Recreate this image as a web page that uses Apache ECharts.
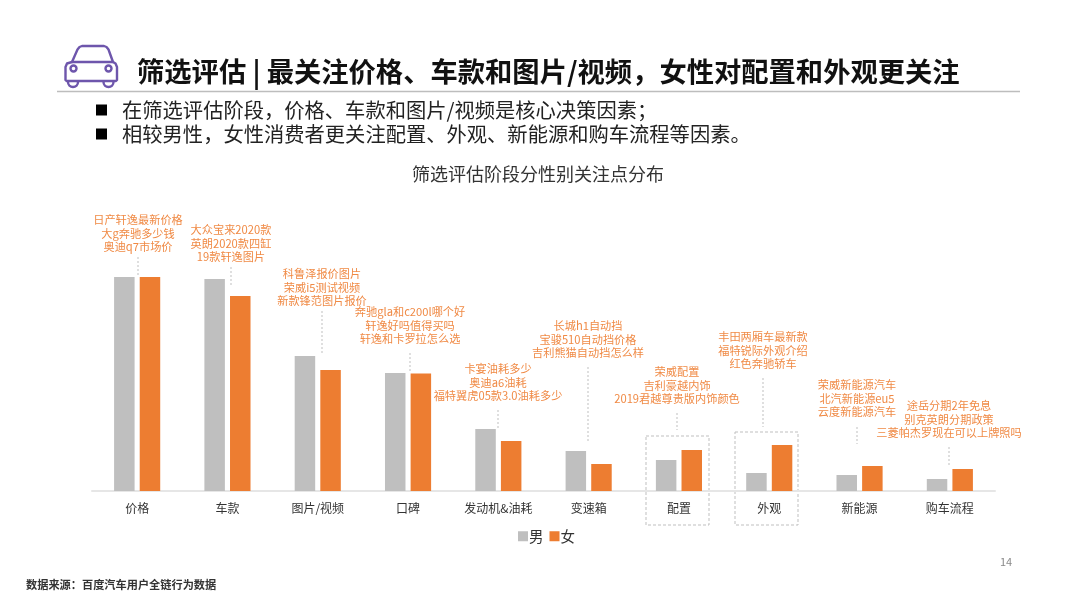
<!DOCTYPE html>
<html><head><meta charset="utf-8">
<style>html,body{margin:0;padding:0;background:#fff}#c{width:1080px;height:608px}</style>
<script src="https://cdn.jsdelivr.net/npm/echarts@6/dist/echarts.min.js"></script>
</head><body><div id="c"></div>
<script>
const categories = ['价格','车款','图片/视频','口碑','发动机&油耗','变速箱','配置','外观','新能源','购车流程'];
const maleValues = [214,212,135,118,62,40,31,18,16,12];
const femaleValues = [214,195,121,117.5,50,27,41,46,25,22];
const titleText = '筛选评估 | 最关注价格、车款和图片/视频，女性对配置和外观更关注';
const bullets = ['在筛选评估阶段，价格、车款和图片/视频是核心决策因素；','相较男性，女性消费者更关注配置、外观、新能源和购车流程等因素。'];
const chartTitle = '筛选评估阶段分性别关注点分布';
const notes = [
 ['日产轩逸最新价格','大g奔驰多少钱','奥迪q7市场价'],
 ['大众宝来2020款','英朗2020款四缸','19款轩逸图片'],
 ['科鲁泽报价图片','荣威i5测试视频','新款锋范图片报价'],
 ['奔驰gla和c200l哪个好','轩逸好吗值得买吗','轩逸和卡罗拉怎么选'],
 ['卡宴油耗多少','奥迪a6油耗','福特翼虎05款3.0油耗多少'],
 ['长城h1自动挡','宝骏510自动挡价格','吉利熊猫自动挡怎么样'],
 ['荣威配置','吉利豪越内饰','2019君越尊贵版内饰颜色'],
 ['丰田两厢车最新款','福特锐际外观介绍','红色奔驰轿车'],
 ['荣威新能源汽车','北汽新能源eu5','云度新能源汽车'],
 ['途岳分期2年免息','别克英朗分期政策','三菱帕杰罗现在可以上牌照吗']
];
// layout: x centre, first line y, leader top, leader bottom
const noteLayout = [[138,220,257,275],[231,230,267,285],[322,274,311,353],[410,312,353,371],[498,369,410,428],
 [588,326,367,443],[677,372,413,430],[763,337,378,427],[857,385,427,444],[949,406,447,465]];
const FONT = '"Noto Sans CJK SC","Noto Sans",sans-serif';
const ORANGE='#ED7D31', GREY='#BFBFBF', PURPLE='#6E56AC';
const g = [];
function text(x,y,t,size,color,align,weight){
  g.push({type:'text',x,y,silent:true,style:{text:t,fontFamily:FONT,fontSize:size,fill:color,align:align||'left',verticalAlign:'middle',fontWeight:weight||'normal'}});
}
// header
text(137,72,titleText,27.3,'#111','left','bold');
g.push({type:'line',shape:{x1:57,y1:91.5,x2:1020,y2:91.5},style:{stroke:'#BDBDBD',lineWidth:1.5}});
[110,134].forEach((y,i)=>{
  g.push({type:'rect',shape:{x:96,y:y-5.5,width:11,height:11},style:{fill:'#000'}});
  text(122,y,bullets[i],20.3,'#222');
});
text(538,174,chartTitle,18,'#333','center');
text(26,585,'数据来源：百度汽车用户全链行为数据',11.2,'#333','left','bold');
text(1006,562,'14',11,'#8a8a8a','center');
// car icon
const carStroke={stroke:PURPLE,lineWidth:2.4,fill:'none',lineJoin:'round',lineCap:'round'};
g.push({type:'polyline',shape:{points:[[72,62],[77.5,49.5],[79.5,47],[82,46],[104,46],[106.5,47],[108.5,49.5],[113,62]]},style:carStroke});
g.push({type:'polygon',shape:{points:[[72,62],[113,62],[115.5,63.5],[117,67],[117,80],[116,81],[66.5,81],[65.5,80],[65.5,67],[67,63.5]]},style:carStroke});
g.push({type:'circle',shape:{cx:73.5,cy:68.5,r:3},style:carStroke});
g.push({type:'circle',shape:{cx:108.5,cy:68.5,r:3},style:carStroke});
g.push({type:'arc',shape:{cx:73,cy:82,r:5,startAngle:0,endAngle:Math.PI,clockwise:true},style:carStroke});
g.push({type:'arc',shape:{cx:108.5,cy:82,r:5,startAngle:0,endAngle:Math.PI,clockwise:true},style:carStroke});
// annotations
notes.forEach((lines,i)=>{
  const l=noteLayout[i];
  lines.forEach((t,j)=>text(l[0],l[1]+j*13.6,t,11.2,'#F08A45','center'));
  g.push({type:'line',shape:{x1:l[0],y1:l[2],x2:l[0],y2:l[3]},style:{stroke:'#BFBFBF',lineWidth:1,lineDash:[2,2]}});
});
// dashed boxes
[[646,436,63,89],[735,432,63,93]].forEach(b=>{
  g.push({type:'rect',shape:{x:b[0],y:b[1],width:b[2],height:b[3]},style:{fill:'none',stroke:'#BFBFBF',lineWidth:1,lineDash:[3,2]}});
});
const chart = echarts.init(document.getElementById('c'),null,{renderer:'canvas'});
chart.setOption({
  animation:false,
  textStyle:{fontFamily:FONT},
  grid:{left:92,right:85,top:191,height:300},
  legend:{data:['男','女'],left:513,top:524,itemWidth:10,itemHeight:10,itemGap:6,icon:'rect',
    textStyle:{fontSize:14.5,color:'#333',padding:[0,0,0,-4],fontFamily:FONT}},
  xAxis:{type:'category',data:categories,axisTick:{show:false},
    axisLine:{lineStyle:{color:'#E6E6E6',width:2}},
    axisLabel:{fontSize:12,color:'#333',margin:11,interval:0,fontFamily:FONT}},
  yAxis:{type:'value',min:0,max:300,show:false,splitLine:{show:false}},
  series:[
    {name:'男',type:'bar',data:maleValues,barWidth:20.5,barGap:'25%',itemStyle:{color:GREY}},
    {name:'女',type:'bar',data:femaleValues,barWidth:20.5,itemStyle:{color:ORANGE}}
  ],
  graphic:{elements:g}
});
</script></body></html>
